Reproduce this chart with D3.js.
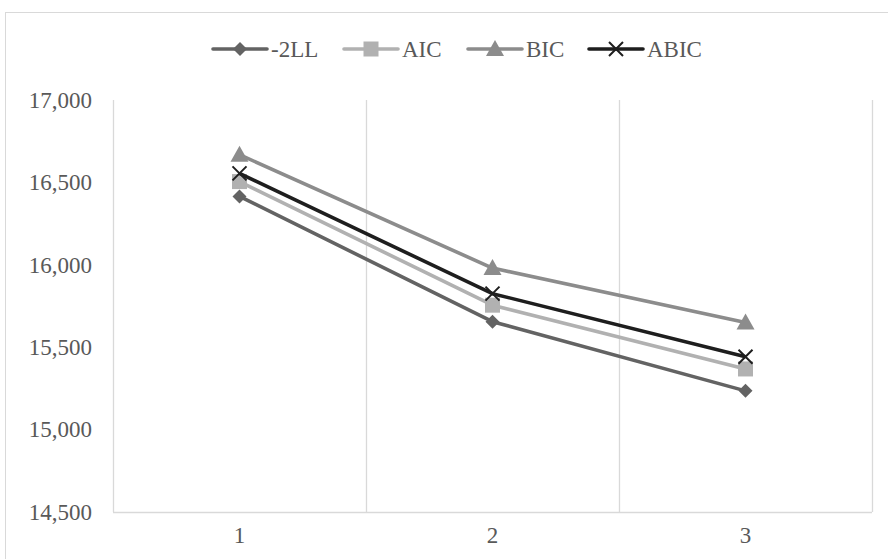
<!DOCTYPE html>
<html><head><meta charset="utf-8">
<script src="https://cdn.jsdelivr.net/npm/d3@7"></script>
<style>body{margin:0;background:#fff}svg{display:block}text{font-family:"Liberation Serif","Times New Roman",serif;fill:#595959}</style>
</head><body>
<svg id="c" width="888" height="559"></svg>
<script>
const categories = ["1","2","3"];
const seriesNames = ["-2LL","AIC","BIC","ABIC"];
const vals2LL = [16415, 15655, 15235];
const valsAIC = [16505, 15755, 15368];
const valsBIC = [16668, 15980, 15650];
const valsABIC = [16555, 15825, 15442];
const yTicks = [14500, 15000, 15500, 16000, 16500, 17000];

const series = [
  {name: seriesNames[0], values: vals2LL, color: "#636363", marker: "diamond"},
  {name: seriesNames[1], values: valsAIC, color: "#b1b1b1", marker: "square"},
  {name: seriesNames[2], values: valsBIC, color: "#8c8c8c", marker: "triangle"},
  {name: seriesNames[3], values: valsABIC, color: "#1e1e1e", marker: "x"}
];

const svg = d3.select("#c");
svg.append("rect").attr("x",5.5).attr("y",12.5).attr("width",900).attr("height",600)
  .attr("fill","#fff").attr("stroke","#d9d9d9").attr("stroke-width",1);

const L = 113, R = 872, T = 100, B = 512;
const x = d3.scaleBand().domain(categories).range([L, R]);
const y = d3.scaleLinear().domain([14500, 17000]).range([B, T]);

const bounds = categories.map(c => x(c)).concat([R]);
svg.append("g").selectAll("line").data(bounds).join("line")
  .attr("x1", d => Math.round(d)+0.5).attr("x2", d => Math.round(d)+0.5)
  .attr("y1", T).attr("y2", B).attr("stroke", "#d9d9d9").attr("stroke-width", 1.3);
svg.append("line").attr("x1", L).attr("x2", R).attr("y1", B+0.5).attr("y2", B+0.5)
  .attr("stroke", "#d9d9d9").attr("stroke-width", 1.3);

const yAxis = d3.axisLeft(y).tickValues(yTicks).tickFormat(d3.format(",")).tickSize(0).tickPadding(0);
const gy = svg.append("g").attr("transform", `translate(92,0)`).call(yAxis);
gy.select(".domain").remove();
gy.selectAll("text").attr("font-size", 23).attr("fill", "#595959").attr("font-family","Liberation Serif");

const xAxis = d3.axisBottom(x).tickSize(0).tickPadding(0);
const gx = svg.append("g").attr("transform", `translate(0,${B+15})`).call(xAxis);
gx.select(".domain").remove();
gx.selectAll("text").attr("font-size", 23).attr("fill", "#595959").attr("font-family","Liberation Serif");

const cx = c => x(c) + x.bandwidth()/2;
const line = d3.line().x((d,i) => cx(categories[i])).y(d => y(d));

function drawMarker(g, type, px, py, color) {
  if (type === "diamond") {
    g.append("path").attr("d", `M${px},${py-7}L${px+7},${py}L${px},${py+7}L${px-7},${py}Z`).attr("fill", color);
  } else if (type === "square") {
    g.append("rect").attr("x", px-7.5).attr("y", py-7.5).attr("width", 15).attr("height", 15).attr("fill", color);
  } else if (type === "triangle") {
    g.append("path").attr("d", `M${px},${py-9}L${px+9},${py+7}L${px-9},${py+7}Z`).attr("fill", color);
  } else if (type === "x") {
    g.append("path").attr("d", `M${px-7},${py-7}L${px+7},${py+7}M${px+7},${py-7}L${px-7},${py+7}`)
      .attr("stroke", color).attr("stroke-width", 2).attr("fill","none");
  }
}

series.forEach(s => {
  const g = svg.append("g");
  g.append("path").datum(s.values).attr("d", line).attr("fill", "none")
    .attr("stroke", s.color).attr("stroke-width", 3.6).attr("stroke-linejoin","round");
  s.values.forEach((v,i) => drawMarker(g, s.marker, cx(categories[i]), y(v), s.color));
});

const legendStarts = [213, 344, 468, 589];
const ly = 49;
series.forEach((s,i) => {
  const g = svg.append("g");
  const x0 = legendStarts[i];
  g.append("line").attr("x1", x0).attr("x2", x0+54).attr("y1", ly).attr("y2", ly)
    .attr("stroke", s.color).attr("stroke-width", 3.6).attr("stroke-linecap","round");
  drawMarker(g, s.marker, x0+27, ly, s.color);
  g.append("text").attr("x", x0+58).attr("y", ly+8).attr("font-size", 23).text(s.name);
});
</script>
</body></html>
